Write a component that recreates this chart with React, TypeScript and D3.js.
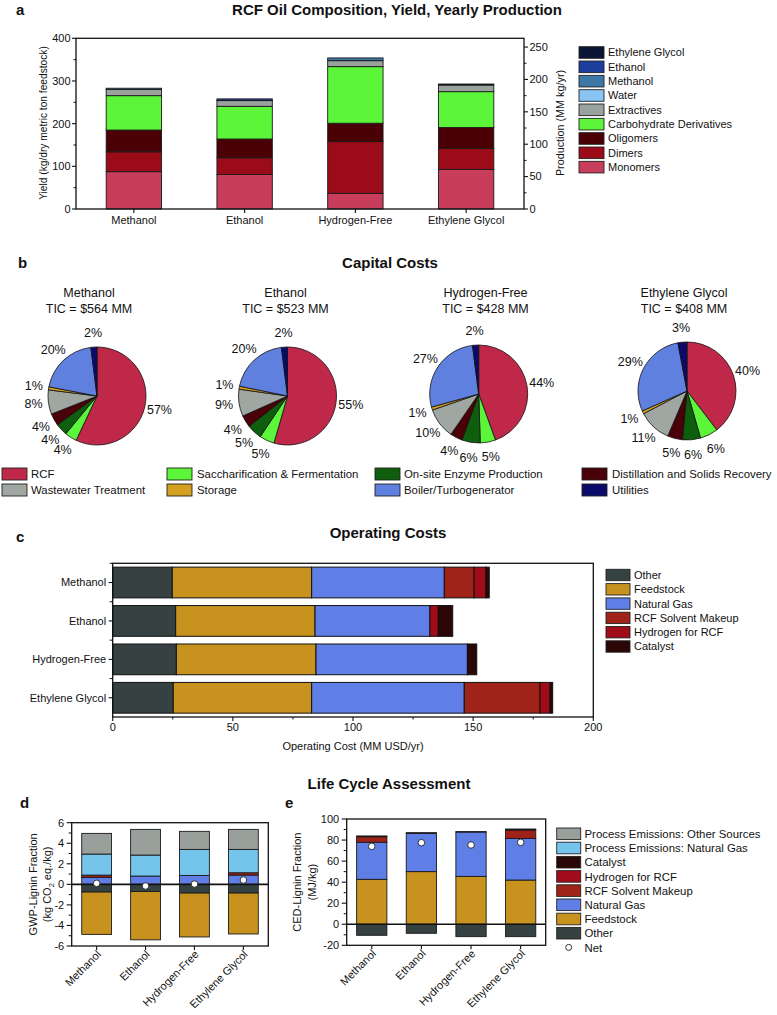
import React from 'react';
import * as d3 from 'd3';

const FONT = "'Liberation Sans', Arial, Helvetica, sans-serif";
const INK = '#111';

// ---------------- Panel a data ----------------
const aCategories = ['Methanol', 'Ethanol', 'Hydrogen-Free', 'Ethylene Glycol'];
const aSeriesNames = ['Monomers', 'Dimers', 'Oligomers', 'Carbohydrate Derivatives', 'Extractives', 'Water', 'Methanol', 'Ethanol', 'Ethylene Glycol'];
const aMonomers = [87.5, 81, 36.7, 92.8];
const aDimers = [46.5, 39, 121.3, 49.2];
const aOligomers = [51, 44, 43, 49];
const aCarbohydrate = [80.6, 76.6, 132.6, 84];
const aExtractives = [14.4, 13.4, 14, 15.5];
const aWater = [0, 0, 0, 0];
const aMethanol = [3, 0, 6.4, 0];
const aEthanol = [0, 4, 0, 0];
const aEthyleneGlycol = [0, 0, 0, 2.4];
const aColors = ['#c83c5c', '#9c0c18', '#4a0004', '#5cf53a', '#9aa29e', '#88c4f4', '#3c78a8', '#1c3f9e', '#0a1535'];
const aYTicks = [0, 100, 200, 300, 400];
const aYMinor = [50, 150, 250, 350];
const aRightTicks = [0, 50, 100, 150, 200, 250];
const aRightMinor = [25, 75, 125, 175, 225];

// ---------------- Panel b data ----------------
const bCategories = ['RCF', 'Saccharification & Fermentation', 'On-site Enzyme Production', 'Distillation and Solids Recovery', 'Wastewater Treatment', 'Storage', 'Boiler/Turbogenerator', 'Utilities'];
const bColors = ['#c0284a', '#5cf53a', '#0e5e0e', '#4a0008', '#a0a6a2', '#d4a020', '#6080e0', '#0a0a6a'];
const bCases = ['Methanol', 'Ethanol', 'Hydrogen-Free', 'Ethylene Glycol'];
const bTIC = [564, 523, 428, 408];
const bMethanol = [57, 4, 4, 4, 8, 1, 20, 2];
const bEthanol = [55, 5, 5, 4, 9, 1, 20, 2];
const bHydrogenFree = [44, 5, 6, 4, 10, 1, 27, 2];
const bEthyleneGlycol = [40, 6, 6, 5, 11, 1, 29, 3];

// ---------------- Panel c data ----------------
const cCategories = ['Methanol', 'Ethanol', 'Hydrogen-Free', 'Ethylene Glycol'];
const cSeriesNames = ['Other', 'Feedstock', 'Natural Gas', 'RCF Solvent Makeup', 'Hydrogen for RCF', 'Catalyst'];
const cOther = [24.8, 26.2, 26.5, 25.2];
const cFeedstock = [58, 58, 58.1, 57.6];
const cNaturalGas = [55.2, 47.8, 63, 63.5];
const cSolvent = [12.4, 0, 0, 31.5];
const cHydrogen = [4.9, 3.5, 0, 4.2];
const cCatalyst = [1.4, 6, 3.9, 1.1];
const cColors = ['#364141', '#c8921f', '#5f7fe6', '#a0231a', '#a00c1a', '#2a0606'];
const cXTicks = [0, 50, 100, 150, 200];
const cXMinor = [25, 75, 125, 175];

// ---------------- Panel d / e data ----------------
const lcaCategories = ['Methanol', 'Ethanol', 'Hydrogen-Free', 'Ethylene Glycol'];
const lcaSeriesNames = ['Other', 'Feedstock', 'Natural Gas', 'RCF Solvent Makeup', 'Hydrogen for RCF', 'Catalyst', 'Process Emissions: Natural Gas', 'Process Emissions: Other Sources'];
const lcaColors = ['#364141', '#c8921f', '#5f7fe6', '#a0231a', '#a00c1a', '#2a0606', '#74c4ec', '#99a09c'];

const dOther = [-0.75, -0.7, -0.85, -0.85];
const dFeedstock = [-4.12, -4.7, -4.27, -3.98];
const dNaturalGas = [0.68, 0.81, 0.87, 0.9];
const dSolvent = [0.22, 0, 0, 0.23];
const dHydrogen = [0, 0, 0, 0];
const dCatalyst = [0, 0, 0, 0];
const dProcNG = [2.05, 2.04, 2.53, 2.27];
const dProcOther = [2.01, 2.5, 1.76, 1.95];
const dNet = [0.1, -0.16, 0.03, 0.42];
const dYTicks = [-6, -4, -2, 0, 2, 4, 6];
const dYMinor = [-5, -3, -1, 1, 3, 5];

const eOther = [-10.5, -8.6, -11.8, -11.8];
const eFeedstock = [42.7, 50, 45.5, 42];
const eNaturalGas = [35.2, 36.4, 42.1, 39.6];
const eSolvent = [5.2, 0, 0, 7.9];
const eHydrogen = [0, 0, 0, 0];
const eCatalyst = [0.8, 0.6, 0.4, 1.0];
const eProcNG = [0, 0, 0, 0];
const eProcOther = [0, 0, 0, 0];
const eNet = [74, 77.5, 75.3, 77.8];
const eYTicks = [-20, 0, 20, 40, 60, 80, 100];
const eYMinor = [-10, 10, 30, 50, 70, 90];

// ---------------- helpers ----------------
function stackSeries(cats: string[], arrays: number[][], keys: string[]) {
  const rows = cats.map((c, i) => {
    const r: any = { __cat: c };
    keys.forEach((k, j) => { r[k] = arrays[j][i]; });
    return r;
  });
  return d3.stack<any>().keys(keys).offset(d3.stackOffsetDiverging)(rows);
}

function Title({ x, y, children }: any) {
  return <text x={x} y={y} textAnchor="middle" fontWeight="bold" fontSize={15} fill={INK}>{children}</text>;
}
function Letter({ x, y, children }: any) {
  return <text x={x} y={y} fontWeight="bold" fontSize={15} fill={INK}>{children}</text>;
}

// ---------------- Panel a ----------------
function PanelA() {
  const L = 76, R = 524, T = 38.3, B = 209;
  const x = d3.scaleBand<string>().domain(aCategories).range([78.5, 521.5]).paddingInner(0.5).paddingOuter(0.25);
  const y = d3.scaleLinear().domain([0, 400]).range([B, T]);
  const yR = d3.scaleLinear().domain([0, 263.5]).range([B, T]);
  const stacked = stackSeries(aCategories, [aMonomers, aDimers, aOligomers, aCarbohydrate, aExtractives, aWater, aMethanol, aEthanol, aEthyleneGlycol], aSeriesNames);
  const legendOrder = aSeriesNames.map((n, i) => i).reverse();
  return (
    <g>
      <Letter x={16} y={15}>a</Letter>
      <Title x={397} y={15}>RCF Oil Composition, Yield, Yearly Production</Title>
      {stacked.map((s, j) => s.map((d, i) => {
        const y0 = y(d[0]), y1 = y(d[1]);
        if (Math.abs(y0 - y1) < 1e-6) return null;
        return <rect key={`a${j}-${i}`} x={x(aCategories[i])} y={Math.min(y0, y1)} width={x.bandwidth()} height={Math.abs(y0 - y1)} fill={aColors[j]} stroke="#1a1a1a" strokeWidth={0.9} />;
      }))}
      <rect x={L} y={T} width={R - L} height={B - T} fill="none" stroke={INK} strokeWidth={1.3} />
      {aYTicks.map(t => (
        <g key={`ay${t}`}>
          <line x1={L - 4} x2={L} y1={y(t)} y2={y(t)} stroke={INK} strokeWidth={1.1} />
          <text x={L - 5.5} y={y(t)} dy="0.35em" textAnchor="end" fontSize={11} fill={INK}>{t}</text>
        </g>
      ))}
      {aYMinor.map(t => <line key={`aym${t}`} x1={L - 2.5} x2={L} y1={y(t)} y2={y(t)} stroke={INK} strokeWidth={1} />)}
      {aRightTicks.map(t => (
        <g key={`ar${t}`}>
          <line x1={R} x2={R + 4} y1={yR(t)} y2={yR(t)} stroke={INK} strokeWidth={1.1} />
          <text x={R + 5.5} y={yR(t)} dy="0.35em" fontSize={11} fill={INK}>{t}</text>
        </g>
      ))}
      {aRightMinor.map(t => <line key={`arm${t}`} x1={R} x2={R + 2.5} y1={yR(t)} y2={yR(t)} stroke={INK} strokeWidth={1} />)}
      {aCategories.map(c => {
        const cx = (x(c) as number) + x.bandwidth() / 2;
        return (
          <g key={`ax${c}`}>
            <line x1={cx} x2={cx} y1={B} y2={B + 4} stroke={INK} strokeWidth={1.1} />
            <text x={cx} y={224} textAnchor="middle" fontSize={11} fill={INK}>{c}</text>
          </g>
        );
      })}
      <text transform={`translate(46.5,123) rotate(-90)`} textAnchor="middle" fontSize={10.2} fill={INK}>Yield (kg/dry metric ton feedstock)</text>
      <text transform={`translate(563.5,123) rotate(-90)`} textAnchor="middle" fontSize={10.8} fill={INK}>Production (MM kg/yr)</text>
      {legendOrder.map((j, k) => {
        const cy = 52.5 + k * 14.33;
        return (
          <g key={`al${j}`}>
            <rect x={579} y={cy - 5.8} width={25} height={11.6} fill={aColors[j]} stroke="#222" strokeWidth={0.9} />
            <text x={608} y={cy} dy="0.36em" fontSize={11} fill={INK}>{aSeriesNames[j]}</text>
          </g>
        );
      })}
    </g>
  );
}

// ---------------- Panel b ----------------
function PanelB() {
  const data = [bMethanol, bEthanol, bHydrogenFree, bEthyleneGlycol];
  const centers = [[97, 396], [287.5, 396], [478.7, 394], [687, 391]];
  const titleX = [89, 285.5, 485.5, 684];
  const r = 49;
  const pie = d3.pie<number>().sort(null).value(v => v);
  const arc = d3.arc<any>().innerRadius(0).outerRadius(r);
  const labelArc = d3.arc<any>().innerRadius(64).outerRadius(64);
  const legendCols = [[2, 31], [167, 197], [375, 404], [582, 612]];
  const legendRows = [474, 490];
  return (
    <g>
      <Letter x={18} y={268}>b</Letter>
      <Title x={390} y={268}>Capital Costs</Title>
      {data.map((vals, p) => {
        const arcs = pie(vals);
        const [cx, cy] = centers[p];
        return (
          <g key={`pie${p}`}>
            <text x={titleX[p]} y={297} textAnchor="middle" fontSize={12.5} fill={INK}>{bCases[p]}</text>
            <text x={titleX[p]} y={313} textAnchor="middle" fontSize={12.5} fill={INK}>{`TIC = $${bTIC[p]} MM`}</text>
            <g transform={`translate(${cx},${cy})`}>
              {arcs.map((a, i) => (
                <path key={`s${i}`} d={arc(a) as string} fill={bColors[i]} stroke="#111" strokeWidth={0.8} />
              ))}
              {arcs.map((a, i) => {
                const [lx, ly] = labelArc.centroid(a);
                return <text key={`l${i}`} x={lx} y={ly} dy="0.35em" textAnchor="middle" fontSize={12.5} fill={INK}>{`${vals[i]}%`}</text>;
              })}
            </g>
          </g>
        );
      })}
      {bCategories.map((c, i) => {
        const col = legendCols[i % 4];
        const cy = legendRows[Math.floor(i / 4)];
        return (
          <g key={`bl${i}`}>
            <rect x={col[0]} y={cy - 6} width={25} height={12} fill={bColors[i]} stroke="#222" strokeWidth={0.9} />
            <text x={col[1]} y={cy} dy="0.36em" fontSize={11.4} fill={INK}>{c}</text>
          </g>
        );
      })}
    </g>
  );
}

// ---------------- Panel c ----------------
function PanelC() {
  const L = 112.7, R = 593.3, T = 563.3, B = 717;
  const x = d3.scaleLinear().domain([0, 200]).range([L, R]);
  const y = d3.scaleBand<string>().domain(cCategories).range([T, B]).paddingInner(0.2).paddingOuter(0.1);
  const stacked = stackSeries(cCategories, [cOther, cFeedstock, cNaturalGas, cSolvent, cHydrogen, cCatalyst], cSeriesNames);
  const boundaries = cCategories.map((c, i) => T + i * y.step());
  return (
    <g>
      <Letter x={16} y={542}>c</Letter>
      <Title x={388} y={538}>Operating Costs</Title>
      {stacked.map((s, j) => s.map((d, i) => {
        const x0 = x(d[0]), x1 = x(d[1]);
        if (Math.abs(x1 - x0) < 1e-6) return null;
        return <rect key={`c${j}-${i}`} x={Math.min(x0, x1)} y={y(cCategories[i])} width={Math.abs(x1 - x0)} height={y.bandwidth()} fill={cColors[j]} stroke="#111" strokeWidth={1} />;
      }))}
      <rect x={L} y={T} width={R - L} height={B - T} fill="none" stroke={INK} strokeWidth={1.3} />
      {cCategories.map(c => {
        const cy = (y(c) as number) + y.bandwidth() / 2;
        return (
          <g key={`cy${c}`}>
            <line x1={L - 4} x2={L} y1={cy} y2={cy} stroke={INK} strokeWidth={1.1} />
            <text x={L - 6.5} y={cy} dy="0.35em" textAnchor="end" fontSize={11} fill={INK}>{c}</text>
          </g>
        );
      })}
      {boundaries.map((b, i) => <line key={`cb${i}`} x1={L - 3} x2={L} y1={b} y2={b} stroke={INK} strokeWidth={1} />)}
      {cXTicks.map(t => (
        <g key={`cx${t}`}>
          <line x1={x(t)} x2={x(t)} y1={B} y2={B + 4} stroke={INK} strokeWidth={1.1} />
          <text x={x(t)} y={731} textAnchor="middle" fontSize={11} fill={INK}>{t}</text>
        </g>
      ))}
      {cXMinor.map(t => <line key={`cxm${t}`} x1={x(t)} x2={x(t)} y1={B} y2={B + 2.5} stroke={INK} strokeWidth={1} />)}
      <text x={(L + R) / 2} y={750} textAnchor="middle" fontSize={11} fill={INK}>Operating Cost (MM USD/yr)</text>
      {cSeriesNames.map((n, i) => {
        const cy = 575 + i * 14.3;
        return (
          <g key={`cl${i}`}>
            <rect x={606} y={cy - 5.7} width={24} height={11.4} fill={cColors[i]} stroke="#222" strokeWidth={0.9} />
            <text x={634} y={cy} dy="0.36em" fontSize={11} fill={INK}>{n}</text>
          </g>
        );
      })}
    </g>
  );
}

// ---------------- Panels d and e ----------------
function LcaPanel({ L, R, T, B, domain, ticks, minor, arrays, net, letter, letterX, labelLines, labelX, outerPad }: any) {
  const x = d3.scaleBand<string>().domain(lcaCategories).range([L, R]).paddingInner(0.39).paddingOuter(outerPad);
  const y = d3.scaleLinear().domain(domain).range([B, T]);
  const stacked = stackSeries(lcaCategories, arrays, lcaSeriesNames);
  const labelY = (T + B) / 2;
  return (
    <g>
      <Letter x={letterX} y={808}>{letter}</Letter>
      {stacked.map((s, j) => s.map((d, i) => {
        const y0 = y(d[0]), y1 = y(d[1]);
        if (Math.abs(y0 - y1) < 1e-6) return null;
        return <rect key={`${letter}${j}-${i}`} x={x(lcaCategories[i])} y={Math.min(y0, y1)} width={x.bandwidth()} height={Math.abs(y0 - y1)} fill={lcaColors[j]} stroke="#1a1a1a" strokeWidth={0.9} />;
      }))}
      <line x1={L} x2={R} y1={y(0)} y2={y(0)} stroke={INK} strokeWidth={1.6} />
      {net.map((v: number, i: number) => (
        <circle key={`n${i}`} cx={(x(lcaCategories[i]) as number) + x.bandwidth() / 2} cy={y(v)} r={3.3} fill="#fff" stroke="#333" strokeWidth={1} />
      ))}
      <rect x={L} y={T} width={R - L} height={B - T} fill="none" stroke={INK} strokeWidth={1.3} />
      {ticks.map((t: number) => (
        <g key={`t${t}`}>
          <line x1={L - 5} x2={L} y1={y(t)} y2={y(t)} stroke={INK} strokeWidth={1.1} />
          <text x={L - 7.5} y={y(t)} dy="0.35em" textAnchor="end" fontSize={11} fill={INK}>{t}</text>
        </g>
      ))}
      {minor.map((t: number) => <line key={`m${t}`} x1={L - 3} x2={L} y1={y(t)} y2={y(t)} stroke={INK} strokeWidth={1} />)}
      {lcaCategories.map(c => {
        const cx = (x(c) as number) + x.bandwidth() / 2;
        return (
          <g key={`x${c}`}>
            <line x1={cx} x2={cx} y1={B} y2={B + 4} stroke={INK} strokeWidth={1.1} />
            <text transform={`translate(${cx + 5},${B + 9}) rotate(-45)`} textAnchor="end" fontSize={11} fill={INK}>{c}</text>
          </g>
        );
      })}
      {labelLines.map((ln: any, k: number) => (
        <text key={`yl${k}`} transform={`translate(${labelX[k]},${labelY}) rotate(-90)`} textAnchor="middle" fontSize={11} fill={INK}>{ln}</text>
      ))}
    </g>
  );
}

function PanelDE() {
  const legendNames = lcaSeriesNames.map((n, i) => i).reverse();
  return (
    <g>
      <Title x={389} y={789}>Life Cycle Assessment</Title>
      <LcaPanel L={71.7} R={268.3} T={822.7} B={946} domain={[-6, 6]} ticks={dYTicks} minor={dYMinor}
        arrays={[dOther, dFeedstock, dNaturalGas, dSolvent, dHydrogen, dCatalyst, dProcNG, dProcOther]} net={dNet}
        letter="d" letterX={20} outerPad={0.205}
        labelLines={['GWP-Lignin Fraction', <tspan key="s">(kg CO<tspan fontSize={7.5} dy="3">2</tspan><tspan dy="-3"> eq./kg)</tspan></tspan>]}
        labelX={[37, 51]} />
      <LcaPanel L={346.7} R={545.7} T={819} B={945.3} domain={[-20, 100]} ticks={eYTicks} minor={eYMinor}
        arrays={[eOther, eFeedstock, eNaturalGas, eSolvent, eHydrogen, eCatalyst, eProcNG, eProcOther]} net={eNet}
        letter="e" letterX={285} outerPad={0.2}
        labelLines={['CED-Lignin Fraction', '(MJ/kg)']}
        labelX={[300.5, 315.5]} />
      {legendNames.map((j, k) => {
        const cy = 833.8 + k * 14.2;
        return (
          <g key={`el${j}`}>
            <rect x={556.7} y={cy - 5.8} width={24} height={11.6} fill={lcaColors[j]} stroke="#222" strokeWidth={0.9} />
            <text x={584.5} y={cy} dy="0.36em" fontSize={11.4} fill={INK}>{lcaSeriesNames[j]}</text>
          </g>
        );
      })}
      <circle cx={568.7} cy={833.8 + 8 * 14.2} r={3} fill="#fff" stroke="#333" strokeWidth={1} />
      <text x={584.5} y={833.8 + 8 * 14.2} dy="0.36em" fontSize={11.4} fill={INK}>Net</text>
    </g>
  );
}

export default function App() {
  return (
    <div style={{ position: 'absolute', left: 0, top: 0 }}>
      <svg width={777} height={1015} style={{ display: 'block', fontFamily: FONT }}>
        <rect width={777} height={1015} fill="#fff" />
        <PanelA />
        <PanelB />
        <PanelC />
        <PanelDE />
      </svg>
    </div>
  );
}
